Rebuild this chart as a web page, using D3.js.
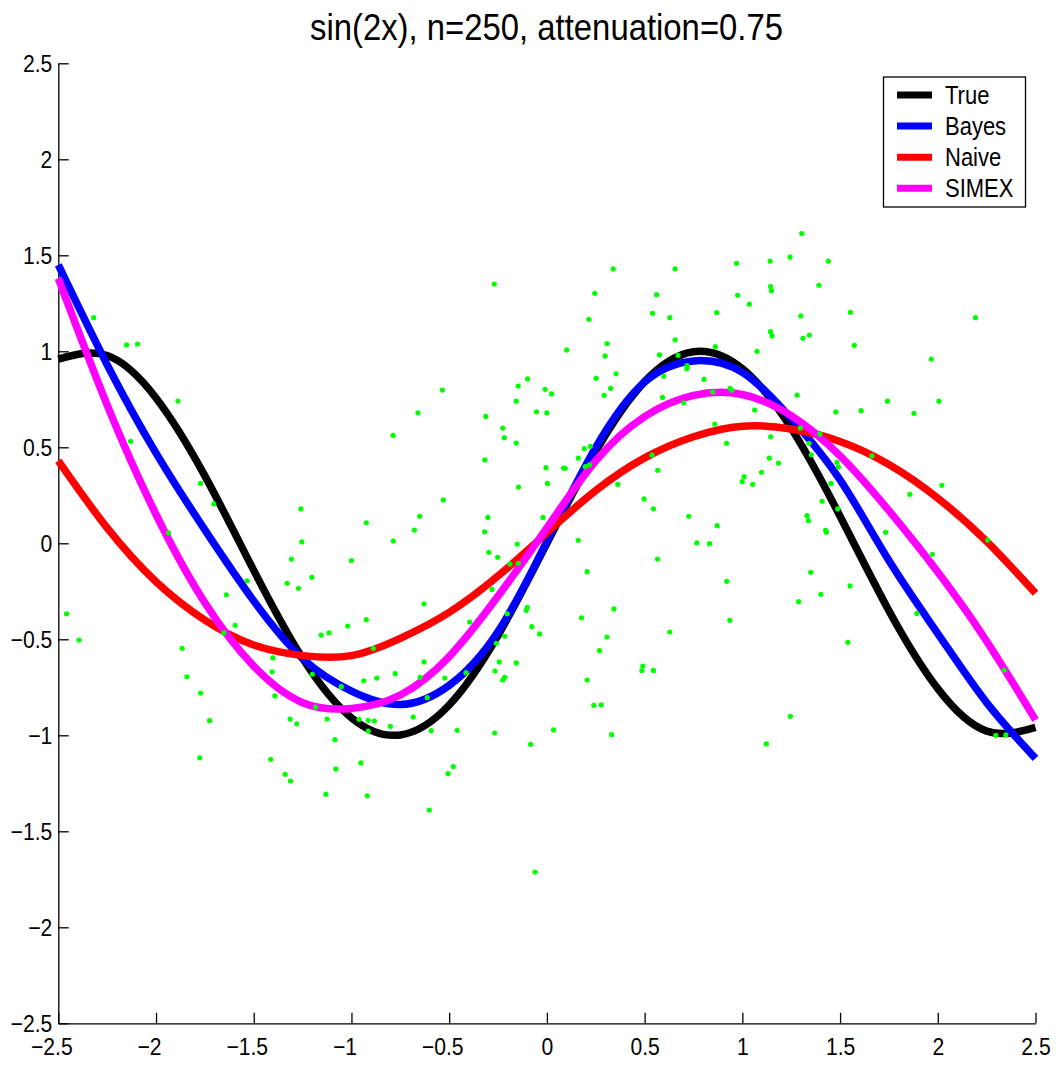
<!DOCTYPE html>
<html><head><meta charset="utf-8">
<script src="https://cdn.jsdelivr.net/npm/d3@7"></script>
<style>body{margin:0;background:#fff}svg{display:block}</style>
</head><body>
<script>
const title = "sin(2x), n=250, attenuation=0.75";
const xTicks = [-2.5,-2,-1.5,-1,-0.5,0,0.5,1,1.5,2,2.5];
const yTicks = [-2.5,-2,-1.5,-1,-0.5,0,0.5,1,1.5,2,2.5];
const gridX = [-2.5,-2.25,-2,-1.75,-1.5,-1.25,-1,-0.75,-0.5,-0.25,0,0.25,0.5,0.75,1,1.25,1.5,1.75,2,2.25,2.5];
const trueY  = [0.959,0.978,0.757,0.351,-0.141,-0.599,-0.909,-0.998,-0.842,-0.479,0,0.479,0.842,0.998,0.909,0.599,0.141,-0.351,-0.757,-0.978,-0.959];
const bayesY = [1.45,0.93,0.47,0.07,-0.30,-0.60,-0.77,-0.84,-0.74,-0.46,0.01,0.50,0.84,0.95,0.89,0.65,0.33,-0.09,-0.47,-0.83,-1.12];
const naiveY = [0.43,0.08,-0.20,-0.40,-0.53,-0.585,-0.585,-0.495,-0.36,-0.17,0.055,0.275,0.445,0.555,0.61,0.595,0.53,0.41,0.235,0.01,-0.26];
const simexY = [1.38,0.72,0.15,-0.31,-0.64,-0.83,-0.86,-0.79,-0.59,-0.275,0.08,0.43,0.66,0.77,0.775,0.665,0.455,0.17,-0.15,-0.51,-0.92];
const seriesNames = ["True","Bayes","Naive","SIMEX"];
const seriesColors = ["#000000","#0000ff","#ff0000","#ff00ff"];
const ptX = [-2.319,-2.151,-2.095,-1.888,-2.130,-1.772,-1.704,-1.936,-1.259,-1.254,
-0.269,-0.099,-0.147,-0.535,-0.009,-0.157,-0.053,0.000,-0.660,-0.313,-0.226,-0.218,-0.157,-0.787,-0.317,-0.005,0.003,-0.145,-0.530,-0.651,-0.924,-0.302,-0.020,-0.678,-0.319,-0.786,-0.152,
0.339,0.656,0.970,1.142,1.244,0.245,0.561,0.976,1.144,1.149,1.036,0.540,0.869,0.215,0.629,1.144,1.152,0.656,0.101,0.308,0.862,0.298,0.576,0.671,1.075,0.717,0.716,0.354,0.598,0.804,0.252,0.326,0.293,0.937,0.946,0.849,0.592,0.700,0.024,1.063,0.859,1.145,0.919,0.222,0.191,0.160,0.538,1.138,1.185,0.085,0.094,0.196,0.218,0.567,1.098,1.009,0.999,1.053,0.363,0.497,0.545,0.726,0.871,0.160,0.767,0.832,
1.304,1.440,1.392,1.299,1.553,2.193,1.343,1.310,1.573,1.967,1.280,1.742,2.006,1.478,1.607,1.878,1.297,1.397,1.341,1.353,1.663,1.484,1.491,1.454,2.021,1.857,1.408,1.488,1.331,1.338,1.426,1.430,1.733,2.255,
-2.458,-2.394,-1.866,-1.842,-1.772,-1.726,-1.776,-1.534,-1.640,-1.595,-1.653,-1.307,-1.329,-1.271,-1.402,-1.406,-1.392,-1.314,-1.280,-1.413,-1.339,-1.312,
-1.000,-1.203,-0.297,-0.252,-0.189,-0.147,-0.281,-0.629,-0.924,-1.019,-1.155,-1.115,-0.395,-0.100,-0.106,-0.203,-0.077,-0.037,-0.216,-0.259,-0.888,-0.629,-0.244,-0.157,-1.200,-0.776,-0.266,-0.937,-0.871,-0.649,-0.523,-0.414,-0.216,-0.226,-1.052,-0.612,-1.183,-1.125,-0.961,-0.914,-0.883,-0.684,-0.914,-0.801,-0.592,-0.459,-0.267,-0.083,-1.085,-0.952,-1.080,-0.479,-0.506,-1.131,-0.919,-0.602,-0.061,
0.566,0.206,0.920,0.343,0.177,0.936,0.307,0.629,0.269,0.491,0.486,0.545,0.206,0.240,0.278,0.034,0.331,1.246,1.123,
1.972,1.350,1.551,1.402,1.288,1.893,1.540,2.340,2.297,2.348];
const ptY = [1.175,1.033,1.038,0.741,0.531,0.312,0.205,0.054,0.179,0.007,
1.350,0.856,0.819,0.798,0.802,0.740,0.685,0.679,0.680,0.661,0.600,0.550,0.522,0.562,0.434,0.394,0.312,0.293,0.226,0.141,0.107,0.135,0.135,0.069,0.060,0.012,-0.004,
1.429,1.429,1.458,1.470,1.490,1.302,1.295,1.292,1.337,1.316,1.246,1.198,1.201,1.167,1.175,1.102,1.080,1.060,1.007,1.040,1.024,0.976,0.981,0.979,1.000,0.925,0.909,0.883,0.870,0.854,0.859,0.807,0.771,0.807,0.798,0.788,0.760,0.732,0.778,0.694,0.621,0.555,0.521,0.505,0.493,0.444,0.460,0.444,0.418,0.392,0.391,0.399,0.408,0.380,0.370,0.347,0.321,0.307,0.307,0.231,0.180,0.141,0.092,0.016,0.002,-0.002,
1.613,1.470,1.344,1.184,1.203,1.175,1.085,1.068,1.031,0.960,0.772,0.740,0.740,0.684,0.691,0.677,0.601,0.569,0.521,0.461,0.455,0.422,0.397,0.312,0.302,0.255,0.219,0.179,0.144,0.118,0.068,0.057,0.057,0.017,
-0.367,-0.504,-0.547,-0.695,-0.780,-0.924,-1.117,-0.195,-0.268,-0.427,-0.467,-0.082,-0.208,-0.234,-0.597,-0.669,-0.795,-0.915,-0.940,-1.125,-1.203,-1.238,
-0.090,-0.177,-0.047,-0.073,-0.108,-0.104,-0.240,-0.315,-0.398,-0.431,-0.478,-0.467,-0.410,-0.333,-0.349,-0.367,-0.434,-0.472,-0.484,-0.521,-0.547,-0.618,-0.618,-0.623,-0.682,-0.679,-0.665,-0.716,-0.702,-0.698,-0.702,-0.674,-0.698,-0.712,-0.747,-0.804,-0.853,-0.915,-0.917,-0.922,-0.926,-0.905,-0.978,-0.953,-0.976,-0.974,-0.988,-1.047,-1.023,-1.144,-1.176,-1.163,-1.200,-1.307,-1.315,-1.389,-1.712,
-0.082,-0.148,-0.198,-0.342,-0.388,-0.401,-0.488,-0.462,-0.559,-0.639,-0.663,-0.662,-0.712,-0.844,-0.842,-0.972,-0.997,-0.901,-1.045,
-0.057,-0.151,-0.222,-0.266,-0.304,-0.365,-0.516,-0.660,-1.000,-0.998];

const W = 1058, H = 1068;
const FONT = "'Liberation Sans',Arial,Helvetica,sans-serif";
const SX = 0.88;
const svg = d3.select("body").append("svg").attr("width", W).attr("height", H)
  .style("font-family", FONT);
const x = d3.scaleLinear().domain([-2.5, 2.5]).range([58.3, 1035.5]);
const y = d3.scaleLinear().domain([-2.5, 2.5]).range([1023.3, 63.3]);
const fmt = d => (d < 0 ? "\u2212" : "") + Math.abs(d);

// axes
const xAxis = d3.axisBottom(x).tickValues(xTicks).tickSizeInner(-10.5).tickSizeOuter(0).tickFormat(fmt);
const yAxis = d3.axisLeft(y).tickValues(yTicks).tickSizeInner(-10.5).tickSizeOuter(0).tickFormat(fmt);
const gx = svg.append("g").attr("transform", `translate(0,${y(-2.5)})`).call(xAxis);
const gy = svg.append("g").attr("transform", `translate(${x(-2.5)},0)`).call(yAxis);
[gx, gy].forEach(g => {
  g.selectAll("path,line").attr("stroke", "#000").attr("stroke-width", 1.3);
  g.selectAll("text").attr("font-size", 24).attr("font-family", FONT).attr("fill", "#000");
});
gx.selectAll(".tick text").attr("y", 0).attr("dy", 0)
  .attr("transform", d => `translate(${d < 0 ? -7 : 0},32) scale(${SX},1)`);
gy.selectAll(".tick text").attr("x", 0).attr("dy", "0.35em")
  .attr("transform", `translate(-6,0) scale(${SX},1)`);

// curves
const ys = [trueY, bayesY, naiveY, simexY];
const line = d3.line().x((d, i) => x(gridX[i])).y(d => y(d)).curve(d3.curveNatural);
ys.forEach((arr, k) => {
  svg.append("path").attr("d", line(arr)).attr("fill", "none")
    .attr("stroke", seriesColors[k]).attr("stroke-width", 7.5).attr("stroke-linejoin", "round");
});

// points
svg.append("g").selectAll("circle").data(ptX).join("circle")
  .attr("cx", d => x(d)).attr("cy", (d, i) => y(ptY[i])).attr("r", 2.6).attr("fill", "#00ff00");

// title
svg.append("text").attr("x", 310).attr("y", 40)
  .attr("font-size", 36).attr("fill", "#000")
  .attr("textLength", 473).attr("lengthAdjust", "spacingAndGlyphs").text(title);

// legend
const lg = svg.append("g");
lg.append("rect").attr("x", 883.5).attr("y", 77).attr("width", 142).attr("height", 130)
  .attr("fill", "#fff").attr("stroke", "#000").attr("stroke-width", 1.3);
seriesNames.forEach((n, k) => {
  const yy = 95 + k * 31.1;
  lg.append("line").attr("x1", 897).attr("x2", 932).attr("y1", yy).attr("y2", yy)
    .attr("stroke", seriesColors[k]).attr("stroke-width", 7);
  lg.append("text").attr("transform", `translate(945,${yy + 8.5}) scale(${SX},1)`)
    .attr("font-size", 25).attr("fill", "#000").text(n);
});
</script>
</body></html>
